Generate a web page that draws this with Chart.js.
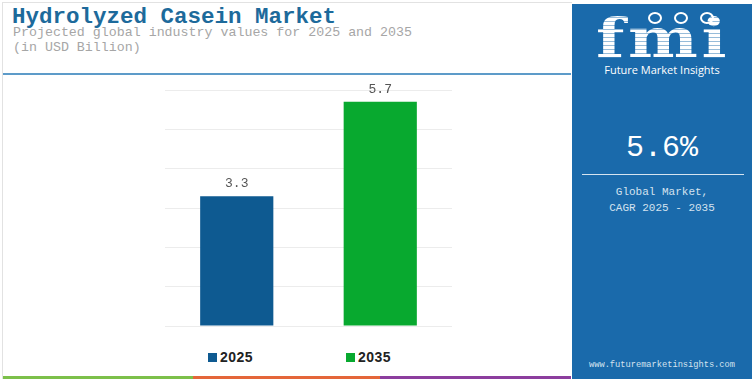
<!DOCTYPE html>
<html>
<head>
<meta charset="utf-8">
<script src="https://cdn.jsdelivr.net/npm/chart.js@4"></script>
<style>
  html, body { margin: 0; padding: 0; background: #fff; }
  body { width: 752px; height: 379px; position: relative; overflow: hidden; font-family: "Liberation Mono", monospace; }
  .card { position: absolute; left: 2px; top: 2px; width: 569px; height: 377px; border-left: 1px solid #e2e2e2; border-top: 1px solid #e2e2e2; }
  .title { position: absolute; left: 12px; top: 4px; font-size: 22.5px; font-weight: bold; color: #1d6a9b; white-space: nowrap; }
  .sub { position: absolute; left: 13px; top: 25px; font-size: 13.3px; color: #a6a6a6; line-height: 15px; white-space: nowrap; }
  .rule { position: absolute; left: 3px; top: 73px; width: 568px; height: 2px; background: #5d9bc9; }
  .stripe { position: absolute; top: 376px; height: 3px; }
  #wrap { position: absolute; left: 0; top: 80px; width: 571px; height: 262px; }
  .legend { position: absolute; top: 349px; font-size: 14px; font-weight: bold; color: #222; display: flex; align-items: center; font-family: "Liberation Sans", Arial, sans-serif; letter-spacing: 0.5px; }
  .legend span.box { width: 9px; height: 9px; margin-right: 3px; display: inline-block; }
  .side { position: absolute; left: 572px; top: 4px; width: 180px; height: 375px; background: #1a6aab; color: #fff; }
  .logo { position: absolute; left: 24px; top: 6px; font-family: "DejaVu Serif", serif; font-weight: bold; font-size: 55px; line-height: 55px; letter-spacing: 3px; transform: scaleX(1.2); transform-origin: left top;
          background: repeating-linear-gradient(#fff 0 3px, rgba(255,255,255,0.55) 3px 4px); -webkit-background-clip: text; background-clip: text; color: transparent; }
  .dot { position: absolute; width: 10px; height: 8px; border-radius: 50%; border: 2px solid #fff; }
  .brand { position: absolute; left: 0; width: 180px; top: 58px; text-align: center; font-family: "Open Sans", "DejaVu Sans", sans-serif; font-size: 11px; color: #fff; }
  .cagr { position: absolute; left: 0; width: 180px; top: 127px; text-align: center; font-size: 30px; color: #fff; }
  .hr { position: absolute; left: 10px; width: 162px; top: 170px; height: 1px; background: #d6e4f0; }
  .desc { position: absolute; left: 0; width: 180px; top: 180px; text-align: center; font-family: "Liberation Mono", monospace; font-size: 11px; line-height: 16px; color: #d4e2ef; }
  .url { position: absolute; left: 0; width: 180px; top: 356px; text-align: center; font-size: 8.7px; color: #d4e2ef; }
</style>
</head>
<body>
<div class="card"></div>
<div class="title">Hydrolyzed Casein Market</div>
<div class="sub">Projected global industry values for 2025 and 2035<br>(in USD Billion)</div>
<div class="rule"></div>
<div class="stripe" style="left:3px;width:190px;background:#7cc04a"></div>
<div class="stripe" style="left:193px;width:187px;background:#e4663a"></div>
<div class="stripe" style="left:380px;width:191px;background:#8c3e9e"></div>
<div id="wrap"><canvas id="chart"></canvas></div>
<div id="legend"></div>

<div class="side">
  <div class="logo">fmi</div>
  <div class="dot" style="left:76px;top:8px"></div>
  <div class="dot" style="left:102px;top:8px"></div>
  <div class="dot" style="left:128px;top:8px"></div>
  <div class="brand">Future Market Insights</div>
  <div class="cagr">5.6%</div>
  <div class="hr"></div>
  <div class="desc">Global Market,<br>CAGR 2025 - 2035</div>
  <div class="url">www.futuremarketinsights.com</div>
</div>

<script>
var years = ["2025", "2035"];
var values = [3.3, 5.7];
var colors = ["#0e5a91", "#08a92f"];
var yTicks = [0, 1, 2, 3, 4, 5, 6];

// legend under the bars
var legendLeft = [208, 346];
var legendEl = document.getElementById('legend');
years.forEach(function (y, i) {
  var d = document.createElement('div');
  d.className = 'legend';
  d.style.left = legendLeft[i] + 'px';
  d.innerHTML = '<span class="box" style="background:' + colors[i] + '"></span>' + y;
  legendEl.appendChild(d);
});

// value labels above bars
var valueLabels = {
  id: 'valueLabels',
  afterDatasetsDraw: function (chart) {
    var ctx = chart.ctx;
    var meta = chart.getDatasetMeta(0);
    ctx.save();
    ctx.font = '13px "Liberation Mono", monospace';
    ctx.fillStyle = '#555';
    ctx.textAlign = 'center';
    ctx.textBaseline = 'bottom';
    meta.data.forEach(function (bar, i) {
      ctx.fillText(values[i].toFixed(1), bar.x, bar.y - 6);
    });
    ctx.restore();
  }
};

var ctx = document.getElementById('chart').getContext('2d');
var chart = new Chart(ctx, {
  type: 'bar',
  data: {
    labels: years,
    datasets: [{
      label: 'Value',
      data: values,
      backgroundColor: colors,
      borderWidth: 0,
      barPercentage: 0.51,
      categoryPercentage: 1
    }]
  },
  options: {
    responsive: true,
    maintainAspectRatio: false,
    animation: false,
    layout: { padding: { left: 165, right: 119, top: 10, bottom: 8 } },
    plugins: { legend: { display: false }, tooltip: { enabled: false } },
    scales: {
      x: { display: true, grid: { display: false }, border: { display: false }, ticks: { display: false } },
      y: {
        min: yTicks[0], max: yTicks[yTicks.length - 1],
        ticks: { display: false, stepSize: 1 },
        grid: { color: '#ececec', drawTicks: false },
        border: { display: false }
      }
    }
  },
  plugins: [valueLabels]
});
</script>
</body>
</html>
